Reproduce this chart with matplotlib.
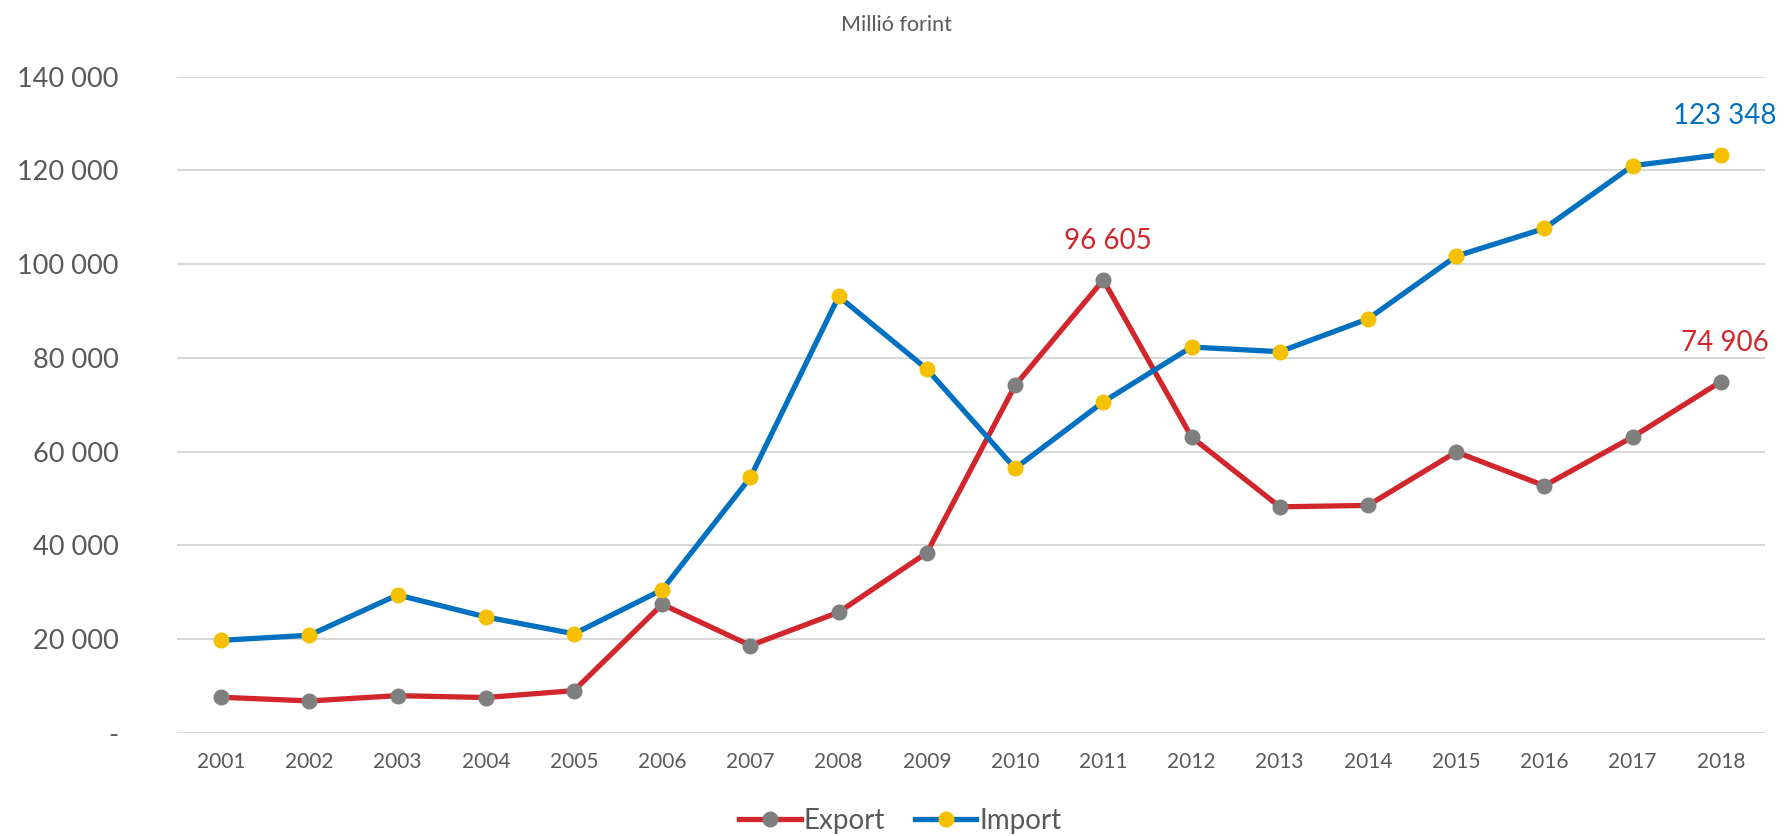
import matplotlib.pyplot as plt
import numpy as np

# Data (millió forint)
years = [str(y) for y in range(2001, 2019)]
export = [7560, 6770, 7900, 7500, 8970, 27400, 18600, 25700, 38400, 74100,
          96605, 63100, 48200, 48500, 59900, 52700, 63100, 74906]
imports = [19700, 20800, 29400, 24700, 21100, 30500, 54500, 93100, 77600, 56400,
           70600, 82300, 81300, 88300, 101700, 107600, 121000, 123348]
y_ticks = [0, 20000, 40000, 60000, 80000, 100000, 120000, 140000]

COLORS = {
    'export': '#d2262d',
    'export_marker': '#7f7f7f',
    'import': '#0070c0',
    'import_marker': '#f5c000',
    'text': '#595959',
    'grid': '#d9d9d9',
}

plt.rcParams['font.family'] = ['Lato', 'DejaVu Sans']


def fmt(v):
    if v == 0:
        return '-'
    return f'{v:,.0f}'.replace(',', ' ')


fig = plt.figure(figsize=(17.9, 8.36), dpi=100)
ax = fig.add_axes([0.0989, 0.1236, 0.8871, 0.7847])

x = np.arange(len(years))
ax.plot(x, export, color=COLORS['export'], linewidth=3.8, marker='o',
        markersize=10.5, markerfacecolor=COLORS['export_marker'],
        markeredgecolor=COLORS['export_marker'], label='Export', zorder=3)
ax.plot(x, imports, color=COLORS['import'], linewidth=3.8, marker='o',
        markersize=10.5, markerfacecolor=COLORS['import_marker'],
        markeredgecolor=COLORS['import_marker'], label='Import', zorder=4)

# data labels
for i, vals, c in [(10, export, COLORS['export']),
                   (17, export, COLORS['export']),
                   (17, imports, COLORS['import'])]:
    ax.annotate(fmt(vals[i]), (x[i], vals[i]), xytext=(3, 28),
                textcoords='offset points', ha='center', va='center',
                color=c, fontsize=20)

ax.set_xlim(-0.5, len(years) - 0.5)
ax.set_ylim(0, 140000)
ax.set_yticks(y_ticks)
ax.set_yticklabels([fmt(v) for v in y_ticks], fontsize=19.5, color=COLORS['text'])
ax.set_xticks(x)
ax.set_xticklabels(years, fontsize=15, color=COLORS['text'])
ax.tick_params(axis='both', length=0)
ax.tick_params(axis='y', pad=42)
ax.tick_params(axis='x', pad=14)
ax.grid(axis='y', color=COLORS['grid'], linewidth=1.5, zorder=0)
ax.set_axisbelow(True)
for s in ax.spines.values():
    s.set_visible(False)

fig.text(0.5006, 0.970, 'Millió forint', ha='center', va='center',
         fontsize=15.5, color=COLORS['text'])

leg = fig.legend(loc='center', bbox_to_anchor=(0.503, 0.018), ncol=2,
                 frameon=False, fontsize=20, handlelength=2.2,
                 handletextpad=0.1, columnspacing=1.1, labelcolor=COLORS['text'])

fig.savefig('out.png', dpi=100)
